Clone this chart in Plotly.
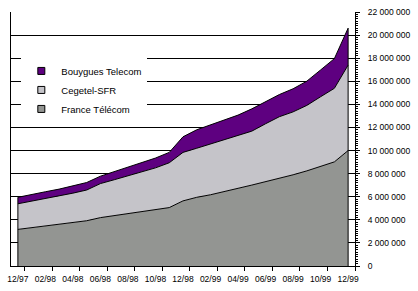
import plotly.graph_objects as go

months = ["12/97", "01/98", "02/98", "03/98", "04/98", "05/98", "06/98", "07/98", "08/98",
          "09/98", "10/98", "11/98", "12/98", "01/99", "02/99", "03/99", "04/99", "05/99",
          "06/99", "07/99", "08/99", "09/99", "10/99", "11/99", "12/99"]

france_telecom = [3170000, 3310000, 3470000, 3580000, 3720000, 3920000, 4190000, 4360000,
                  4560000, 4750000, 4890000, 5060000, 5640000, 5950000, 6170000, 6420000,
                  6730000, 7010000, 7290000, 7630000, 7900000, 8240000, 8600000, 9020000,
                  10000000]
cegetel_sfr = [2220000, 2300000, 2340000, 2480000, 2590000, 2660000, 2950000, 3110000,
               3250000, 3420000, 3610000, 3880000, 4200000, 4250000, 4390000, 4500000,
               4530000, 4670000, 5030000, 5300000, 5450000, 5670000, 6060000, 6370000,
               7400000]
bouygues = [560000, 600000, 620000, 600000, 620000, 650000, 640000, 700000, 700000, 750000,
            850000, 900000, 1350000, 1600000, 1670000, 1730000, 1810000, 1930000, 1900000,
            1920000, 2000000, 2100000, 2320000, 2570000, 3200000]

series = [
    ("France Télécom", france_telecom, "#939592"),
    ("Cegetel-SFR", cegetel_sfr, "#C5C4C9"),
    ("Bouygues Telecom", bouygues, "#5E0080"),
]

x = list(range(len(months)))
tickvals = x[::2]
ticktext = months[::2]

fig = go.Figure()
for name, vals, col in series:
    fig.add_trace(go.Scatter(x=x, y=vals, name=name, stackgroup="one", mode="lines",
                             line=dict(color="black", width=1), fillcolor=col,
                             showlegend=False, hoverinfo="skip"))

# vertical edges of the area
totals = [a + b + c for a, b, c in zip(france_telecom, cegetel_sfr, bouygues)]
fig.add_trace(go.Scatter(x=[x[0], x[0], None, x[-1], x[-1]],
                         y=[0, totals[0], None, 0, totals[-1]],
                         mode="lines", line=dict(color="black", width=1),
                         showlegend=False, hoverinfo="skip"))

# legend entries (top to bottom)
for name, vals, col in reversed(series):
    fig.add_trace(go.Scatter(x=[None], y=[None], name=name, mode="markers",
                             marker=dict(symbol="square", size=7, color=col,
                                         line=dict(color="black", width=1))))

font_family = "Arial, Liberation Sans, sans-serif"
fig.update_layout(
    width=418, height=291,
    margin=dict(l=9, r=54, t=7, b=23),
    paper_bgcolor="white", plot_bgcolor="white",
    font=dict(family=font_family, size=9, color="black"),
    showlegend=True,
    legend=dict(x=0.03, y=0.825, xanchor="left", yanchor="top",
                traceorder="normal",
                bgcolor="white", borderwidth=0,
                font=dict(family=font_family, size=9.5, color="black"),
                itemwidth=30, tracegroupgap=0),
    xaxis=dict(range=[-0.5, len(months) - 0.5], tickmode="array",
               tickvals=tickvals, ticktext=ticktext, ticks="",
               ticklabelstandoff=5,
               showgrid=False, zeroline=False,
               showline=True, linecolor="black", linewidth=1,
               tickfont=dict(size=8.5),
               minor=dict(tickmode="linear", tick0=0.5, dtick=2, ticks="outside",
                          ticklen=4, tickcolor="black", showgrid=False)),
    yaxis=dict(range=[0, 22000000], dtick=2000000, side="right",
               tickformat=",d", separatethousands=True,
               showgrid=True, gridcolor="black", gridwidth=1,
               zeroline=False, showline=True, linecolor="black", linewidth=1,
               mirror=True, ticks="outside", ticklen=4, tickcolor="black",
               ticklabelstandoff=6,
               tickfont=dict(size=8.5),
               minor=dict(dtick=200000, ticks="outside", ticklen=2,
                          tickcolor="black", showgrid=False)),
    separators=", ",
)

fig.write_html("out.html")
